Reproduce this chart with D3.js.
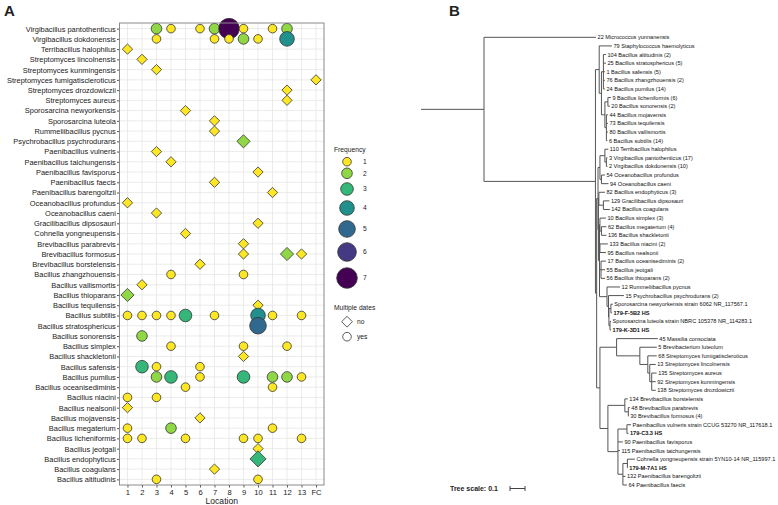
<!DOCTYPE html>
<html>
<head>
<meta charset="utf-8">
<script src="https://cdn.jsdelivr.net/npm/d3@7"></script>
<style>
  body { margin: 0; background: #fff; }
  text { font-family: "Liberation Sans", Arial, sans-serif; }
</style>
</head>
<body>
<svg id="fig" width="778" height="505"></svg>
<script>
// ---- panel A data ----
var species = [
  'Virgibacillus pantothenticus', 'Virgibacillus dokdonensis', 'Terribacillus halophilus',
  'Streptomyces lincolnensis', 'Streptomyces kunmingensis', 'Streptomyces fumigatiscleroticus',
  'Streptomyces drozdowiczii', 'Streptomyces aureus', 'Sporosarcina newyorkensis',
  'Sporosarcina luteola', 'Rummeliibacillus pycnus', 'Psychrobacillus psychrodurans',
  'Paenibacillus vulneris', 'Paenibacillus taichungensis', 'Paenibacillus favisporus',
  'Paenibacillus faecis', 'Paenibacillus barengoltzii', 'Oceanobacillus profundus',
  'Oceanobacillus caeni', 'Gracilibacillus dipsosauri', 'Cohnella yongneupensis',
  'Brevibacillus parabrevis', 'Brevibacillus formosus', 'Brevibacillus borstelensis',
  'Bacillus zhangzhouensis', 'Bacillus vallismortis', 'Bacillus thioparans',
  'Bacillus tequilensis', 'Bacillus subtilis', 'Bacillus stratosphericus',
  'Bacillus sonorensis', 'Bacillus simplex', 'Bacillus shackletonii', 'Bacillus safensis',
  'Bacillus pumilus', 'Bacillus oceanisediminis', 'Bacillus niacini', 'Bacillus nealsonii',
  'Bacillus mojavensis', 'Bacillus megaterium', 'Bacillus licheniformis', 'Bacillus jeotgali',
  'Bacillus endophyticus', 'Bacillus coagulans', 'Bacillus altitudinis'
];

var locations = ['1', '2', '3', '4', '5', '6', '7', '8', '9', '10', '11', '12', '13', 'FC'];

// species isolated on more than one date
var multipleDates = [
  'Virgibacillus pantothenticus', 'Virgibacillus dokdonensis', 'Bacillus zhangzhouensis',
  'Bacillus subtilis', 'Bacillus stratosphericus', 'Bacillus sonorensis', 'Bacillus simplex',
  'Bacillus safensis', 'Bacillus pumilus', 'Bacillus oceanisediminis', 'Bacillus niacini',
  'Bacillus megaterium', 'Bacillus licheniformis', 'Bacillus altitudinis'
];

// [species, location, frequency]
var occurrences = [
  ['Virgibacillus pantothenticus', '3', 2], ['Virgibacillus pantothenticus', '4', 1],
  ['Virgibacillus pantothenticus', '6', 1], ['Virgibacillus pantothenticus', '7', 2],
  ['Virgibacillus pantothenticus', '8', 7], ['Virgibacillus pantothenticus', '9', 1],
  ['Virgibacillus pantothenticus', '11', 1], ['Virgibacillus pantothenticus', '12', 2],
  ['Virgibacillus dokdonensis', '3', 1], ['Virgibacillus dokdonensis', '7', 1],
  ['Virgibacillus dokdonensis', '8', 1], ['Virgibacillus dokdonensis', '9', 2],
  ['Virgibacillus dokdonensis', '10', 1], ['Virgibacillus dokdonensis', '12', 4],
  ['Terribacillus halophilus', '1', 1],
  ['Streptomyces lincolnensis', '2', 1],
  ['Streptomyces kunmingensis', '3', 1],
  ['Streptomyces fumigatiscleroticus', 'FC', 1],
  ['Streptomyces drozdowiczii', '12', 1],
  ['Streptomyces aureus', '12', 1],
  ['Sporosarcina newyorkensis', '5', 1],
  ['Sporosarcina luteola', '7', 1],
  ['Rummeliibacillus pycnus', '7', 1],
  ['Psychrobacillus psychrodurans', '9', 2],
  ['Paenibacillus vulneris', '3', 1],
  ['Paenibacillus taichungensis', '4', 1],
  ['Paenibacillus favisporus', '10', 1],
  ['Paenibacillus faecis', '7', 1],
  ['Paenibacillus barengoltzii', '11', 1],
  ['Oceanobacillus profundus', '1', 1],
  ['Oceanobacillus caeni', '3', 1],
  ['Gracilibacillus dipsosauri', '10', 1],
  ['Cohnella yongneupensis', '5', 1],
  ['Brevibacillus parabrevis', '9', 1],
  ['Brevibacillus formosus', '9', 1], ['Brevibacillus formosus', '12', 2],
  ['Brevibacillus formosus', '13', 1],
  ['Brevibacillus borstelensis', '6', 1],
  ['Bacillus zhangzhouensis', '4', 1], ['Bacillus zhangzhouensis', '9', 1],
  ['Bacillus vallismortis', '2', 1],
  ['Bacillus thioparans', '1', 2],
  ['Bacillus tequilensis', '10', 1],
  ['Bacillus subtilis', '1', 1], ['Bacillus subtilis', '2', 1], ['Bacillus subtilis', '3', 1],
  ['Bacillus subtilis', '4', 1], ['Bacillus subtilis', '5', 3], ['Bacillus subtilis', '7', 1],
  ['Bacillus subtilis', '10', 4], ['Bacillus subtilis', '11', 1], ['Bacillus subtilis', '13', 1],
  ['Bacillus stratosphericus', '10', 5],
  ['Bacillus sonorensis', '2', 2],
  ['Bacillus simplex', '4', 1], ['Bacillus simplex', '9', 1], ['Bacillus simplex', '12', 1],
  ['Bacillus shackletonii', '9', 1],
  ['Bacillus safensis', '2', 3], ['Bacillus safensis', '3', 1], ['Bacillus safensis', '6', 1],
  ['Bacillus pumilus', '3', 2], ['Bacillus pumilus', '4', 3], ['Bacillus pumilus', '6', 1],
  ['Bacillus pumilus', '9', 3], ['Bacillus pumilus', '11', 2], ['Bacillus pumilus', '12', 2],
  ['Bacillus pumilus', '13', 1],
  ['Bacillus oceanisediminis', '5', 1], ['Bacillus oceanisediminis', '11', 1],
  ['Bacillus niacini', '1', 1], ['Bacillus niacini', '3', 1],
  ['Bacillus nealsonii', '1', 1],
  ['Bacillus mojavensis', '6', 1],
  ['Bacillus megaterium', '1', 1], ['Bacillus megaterium', '4', 2], ['Bacillus megaterium', '11', 1],
  ['Bacillus licheniformis', '1', 1], ['Bacillus licheniformis', '2', 1],
  ['Bacillus licheniformis', '5', 1], ['Bacillus licheniformis', '9', 1],
  ['Bacillus licheniformis', '10', 1], ['Bacillus licheniformis', '13', 1],
  ['Bacillus jeotgali', '10', 1],
  ['Bacillus endophyticus', '10', 3],
  ['Bacillus coagulans', '7', 1],
  ['Bacillus altitudinis', '3', 1], ['Bacillus altitudinis', '10', 1]
];

var freqLevels = [1, 2, 3, 4, 5, 6, 7];
var freqColors = ['#FDE725', '#8FD744', '#35B779', '#21908C', '#31688E', '#443A83', '#440154'];

// ---- panel B data: [node, parent, branch length] (leaves named by their label) ----
var treeNodes = [
  ['root', '', 0.42],
  ['22 Micrococcus yunnanensis', 'root', 0.747],
  ['I', 'root', 0.743],
  ['S', 'I', 0.025],
  ['79 Staphylococcus haemolyticus', 'S', 0.085],
  ['B', 'S', 0.015],
  ['P', 'B', 0.013],
  ['104 Bacillus altitudinis (2)', 'P', 0.017],
  ['25 Bacillus stratosphericus (5)', 'P', 0.017],
  ['1 Bacillus safensis (5)', 'P', 0.010],
  ['76 Bacillus zhangzhouensis (2)', 'P', 0.010],
  ['24 Bacillus pumilus (14)', 'P', 0.010],
  ['LS', 'B', 0.023],
  ['L', 'LS', 0.020],
  ['9 Bacillus licheniformis (6)', 'L', 0.020],
  ['20 Bacillus sonorensis (2)', 'L', 0.013],
  ['Sub', 'LS', 0.010],
  ['44 Bacillus mojavensis', 'Sub', 0.010],
  ['73 Bacillus tequilensis', 'Sub', 0.010],
  ['80 Bacillus vallismortis', 'Sub', 0.010],
  ['6 Bacillus subtilis (14)', 'Sub', 0.007],
  ['X', 'I', 0.008],
  ['G2', 'X', 0.009],
  ['TVO', 'G2', 0.013],
  ['TV', 'TVO', 0.033],
  ['110 Terribacillus halophilus', 'TV', 0.023],
  ['V', 'TV', 0.010],
  ['3 Virgibacillus pantothenticus (17)', 'V', 0.007],
  ['2 Virgibacillus dokdonensis (10)', 'V', 0.007],
  ['O', 'TVO', 0.010],
  ['54 Oceanobacillus profundus', 'O', 0.023],
  ['94 Oceanobacillus caeni', 'O', 0.047],
  ['G3', 'G2', 0.003],
  ['EGC', 'G3', 0.003],
  ['82 Bacillus endophyticus (3)', 'EGC', 0.040],
  ['GC', 'EGC', 0.030],
  ['129 Gracilibacillus dipsosauri', 'GC', 0.040],
  ['142 Bacillus coagulans', 'GC', 0.043],
  ['G4', 'G3', 0.007],
  ['SIM', 'G4', 0.003],
  ['10 Bacillus simplex (3)', 'SIM', 0.040],
  ['MS', 'SIM', 0.010],
  ['62 Bacillus megaterium (4)', 'MS', 0.033],
  ['136 Bacillus shackletonii', 'MS', 0.033],
  ['NN', 'G4', 0.003],
  ['133 Bacillus niacini (2)', 'NN', 0.053],
  ['95 Bacillus nealsonii', 'NN', 0.040],
  ['OJT', 'G4', 0.010],
  ['17 Bacillus oceanisediminis (2)', 'OJT', 0.033],
  ['55 Bacillus jeotgali', 'OJT', 0.027],
  ['56 Bacillus thioparans (2)', 'OJT', 0.027],
  ['RP', 'G4', 0.050],
  ['12 Rummeliibacillus pycnus', 'RP', 0.087],
  ['PS', 'RP', 0.010],
  ['15 Psychrobacillus psychrodurans (2)', 'PS', 0.103],
  ['SP', 'PS', 0.003],
  ['SN', 'SP', 0.013],
  ['Sporosarcina newyorkensis strain 6062 NR_117567.1', 'SN', 0.013],
  ['179-F-5B2 HS', 'SN', 0.007],
  ['SL', 'SP', 0.007],
  ['Sporosarcina luteola strain NBRC 105378 NR_114283.1', 'SL', 0.007],
  ['179-K-3D1 HS', 'SL', 0.007],
  ['F2', 'X', 0.022],
  ['M', 'F2', 0.111],
  ['45 Massilia consociata', 'M', 0.275],
  ['BS', 'M', 0.155],
  ['5 Brevibacterium luteolum', 'BS', 0.113],
  ['ST', 'BS', 0.053],
  ['68 Streptomyces fumigatiscleroticus', 'ST', 0.060],
  ['ST2', 'ST', 0.013],
  ['13 Streptomyces lincolnensis', 'ST2', 0.040],
  ['ST3', 'ST2', 0.013],
  ['135 Streptomyces aureus', 'ST3', 0.033],
  ['92 Streptomyces kunmingensis', 'ST3', 0.027],
  ['138 Streptomyces drozdowiczii', 'ST3', 0.027],
  ['BP', 'F2', 0.053],
  ['BB', 'BP', 0.113],
  ['134 Brevibacillus borstelensis', 'BB', 0.020],
  ['BB2', 'BB', 0.023],
  ['48 Brevibacillus parabrevis', 'BB2', 0.010],
  ['30 Brevibacillus formosus (4)', 'BB2', 0.003],
  ['PA', 'BP', 0.067],
  ['PV', 'PA', 0.060],
  ['Paenibacillus vulneris strain CCUG 53270 NR_117618.1', 'PV', 0.027],
  ['179-C3.3 HS', 'PV', 0.010],
  ['90 Paenibacillus favisporus', 'PA', 0.033],
  ['115 Paenibacillus taichungensis', 'PA', 0.013],
  ['PC', 'PA', 0.033],
  ['CY', 'PC', 0.030],
  ['Cohnella yongneupensis strain 5YN10-14 NR_115997.1', 'CY', 0.050],
  ['179-M-7A1 HS', 'CY', 0.003],
  ['132 Paenibacillus barengoltzii', 'PC', 0.017],
  ['64 Paenibacillus faecis', 'PC', 0.027]
];
var treeScale = 0.1;

// ---- drawing ----
var svg = d3.select('#fig');
var font = '"Liberation Sans", Arial, sans-serif';

svg.append('text').attr('x', 4).attr('y', 16).attr('font-size', 15).attr('font-weight', 'bold')
  .attr('fill', '#222').text('A');
svg.append('text').attr('x', 449).attr('y', 16).attr('font-size', 15).attr('font-weight', 'bold')
  .attr('fill', '#222').text('B');

// panel A
var pa = { left: 119.5, right: 324, top: 23, bottom: 485 };
var x = d3.scalePoint().domain(locations).range([pa.left, pa.right]).padding(0.55);
var y = d3.scalePoint().domain(species).range([pa.top, pa.bottom]).padding(0.55);
var color = d3.scaleOrdinal().domain(freqLevels).range(freqColors);
var rad = d3.scaleLinear().domain([1, 7]).range([4.3, 10.3]);

var gA = svg.append('g');

gA.append('g').selectAll('line').data(locations).enter().append('line')
  .attr('x1', function (d) { return x(d); }).attr('x2', function (d) { return x(d); })
  .attr('y1', pa.top).attr('y2', pa.bottom)
  .attr('stroke', '#e6e6e6').attr('stroke-width', 0.8);
gA.append('g').selectAll('line').data(species).enter().append('line')
  .attr('y1', function (d) { return y(d); }).attr('y2', function (d) { return y(d); })
  .attr('x1', pa.left).attr('x2', pa.right)
  .attr('stroke', '#e6e6e6').attr('stroke-width', 0.8);

var yAxis = gA.append('g').attr('transform', 'translate(' + pa.left + ',0)')
  .call(d3.axisLeft(y).tickSize(2.5).tickPadding(1.2));
var xAxis = gA.append('g').attr('transform', 'translate(0,' + pa.bottom + ')')
  .call(d3.axisBottom(x).tickSize(2.5).tickPadding(2));
[yAxis, xAxis].forEach(function (ax) {
  ax.select('.domain').remove();
  ax.selectAll('line').attr('stroke', '#555');
  ax.selectAll('text').attr('fill', '#1a1a1a').style('font-family', font);
});
yAxis.selectAll('text').attr('font-size', 7.45);
xAxis.selectAll('text').attr('font-size', 7.6);

gA.append('text').attr('x', (pa.left + pa.right) / 2).attr('y', 504)
  .attr('text-anchor', 'middle').attr('font-size', 8.6).attr('fill', '#1a1a1a').text('Location');

function diamond(cx, cy, h) {
  return 'M' + cx + ',' + (cy - h) + 'L' + (cx + h) + ',' + cy + 'L' + cx + ',' + (cy + h) +
    'L' + (cx - h) + ',' + cy + 'Z';
}
function half(r) { return 1.45 * r - 1.1; }
function isMulti(name) { return multipleDates.indexOf(name) >= 0; }

var marks = gA.append('g').selectAll('g').data(occurrences).enter().append('g')
  .attr('transform', function (d) { return 'translate(' + x(d[1]) + ',' + y(d[0]) + ')'; });
marks.filter(function (d) { return isMulti(d[0]); }).append('circle')
  .attr('r', function (d) { return rad(d[2]); });
marks.filter(function (d) { return !isMulti(d[0]); }).append('path')
  .attr('d', function (d) { return diamond(0, 0, half(rad(d[2]))); });
marks.selectAll('circle, path')
  .attr('fill', function (d) { return color(d[2]); })
  .attr('stroke', '#333').attr('stroke-width', 0.8);

gA.append('rect').attr('x', pa.left).attr('y', pa.top)
  .attr('width', pa.right - pa.left).attr('height', pa.bottom - pa.top)
  .attr('fill', 'none').attr('stroke', '#8a8a8a').attr('stroke-width', 1);

// legend
var lg = svg.append('g');
lg.append('text').attr('x', 334).attr('y', 152).attr('font-size', 6.7).attr('fill', '#1a1a1a')
  .text('Frequency');
var legY = [161.7, 173.3, 189, 208, 229, 252, 278];
freqLevels.forEach(function (f, i) {
  lg.append('circle').attr('cx', 347).attr('cy', legY[i]).attr('r', rad(f))
    .attr('fill', color(f)).attr('stroke', '#333').attr('stroke-width', 0.8);
  lg.append('text').attr('x', 363).attr('y', legY[i] + 2.4).attr('font-size', 6.7)
    .attr('fill', '#1a1a1a').text(f);
});
lg.append('text').attr('x', 334).attr('y', 310).attr('font-size', 6.7).attr('fill', '#1a1a1a')
  .text('Multiple dates');
lg.append('path').attr('d', diamond(347, 321.7, 5.4)).attr('fill', '#fff')
  .attr('stroke', '#333').attr('stroke-width', 0.8);
lg.append('text').attr('x', 357).attr('y', 324.1).attr('font-size', 6.7).attr('fill', '#1a1a1a').text('no');
lg.append('circle').attr('cx', 347).attr('cy', 336.7).attr('r', 4.3).attr('fill', '#fff')
  .attr('stroke', '#333').attr('stroke-width', 0.8);
lg.append('text').attr('x', 357).attr('y', 339.1).attr('font-size', 6.7).attr('fill', '#1a1a1a').text('yes');

// panel B: tree
var root = d3.stratify()
  .id(function (d) { return d[0]; })
  .parentId(function (d) { return d[1] || null; })(treeNodes);

var leaves = root.leaves();
var ty = d3.scaleLinear().domain([0, leaves.length - 1]).range([37.3, 485]);
var tx = d3.scaleLinear().domain([0, 1]).range([484, 484 + 150]);

root.eachBefore(function (n) {
  n.depthLen = n.parent ? n.parent.depthLen + n.data[2] : 0;
});
leaves.forEach(function (n, i) { n.ty = ty(i); });
root.eachAfter(function (n) {
  if (n.children) {
    n.ty = (n.children[0].ty + n.children[n.children.length - 1].ty) / 2;
  }
});

var gB = svg.append('g').attr('stroke', '#555').attr('stroke-width', 1).attr('fill', 'none');
gB.append('line').attr('x1', tx(-root.data[2])).attr('x2', tx(0))
  .attr('y1', root.ty).attr('y2', root.ty);
root.descendants().forEach(function (n) {
  if (n.parent) {
    gB.append('line').attr('x1', tx(n.parent.depthLen)).attr('x2', tx(n.depthLen))
      .attr('y1', n.ty).attr('y2', n.ty);
  }
  if (n.children) {
    gB.append('line').attr('x1', tx(n.depthLen)).attr('x2', tx(n.depthLen))
      .attr('y1', n.children[0].ty).attr('y2', n.children[n.children.length - 1].ty);
  }
});

svg.append('g').selectAll('text').data(leaves).enter().append('text')
  .attr('x', function (d) { return tx(d.depthLen) + 1.5; })
  .attr('y', function (d) { return d.ty + 2; })
  .attr('font-size', 5.6)
  .attr('font-weight', function (d) { return /^179-/.test(d.id) ? 'bold' : 'normal'; })
  .attr('fill', '#111')
  .text(function (d) { return d.id; });

// tree scale bar
svg.append('text').attr('x', 450).attr('y', 491).attr('font-size', 7).attr('font-weight', 'bold')
  .attr('fill', '#222').text('Tree scale: ' + treeScale);
var sbLen = tx(treeScale) - tx(0);
var sb = svg.append('g').attr('stroke', '#444').attr('stroke-width', 1);
sb.append('line').attr('x1', 510).attr('x2', 510 + sbLen).attr('y1', 488.5).attr('y2', 488.5);
sb.append('line').attr('x1', 510).attr('x2', 510).attr('y1', 486).attr('y2', 491);
sb.append('line').attr('x1', 510 + sbLen).attr('x2', 510 + sbLen).attr('y1', 486).attr('y2', 491);
</script>
</body>
</html>
